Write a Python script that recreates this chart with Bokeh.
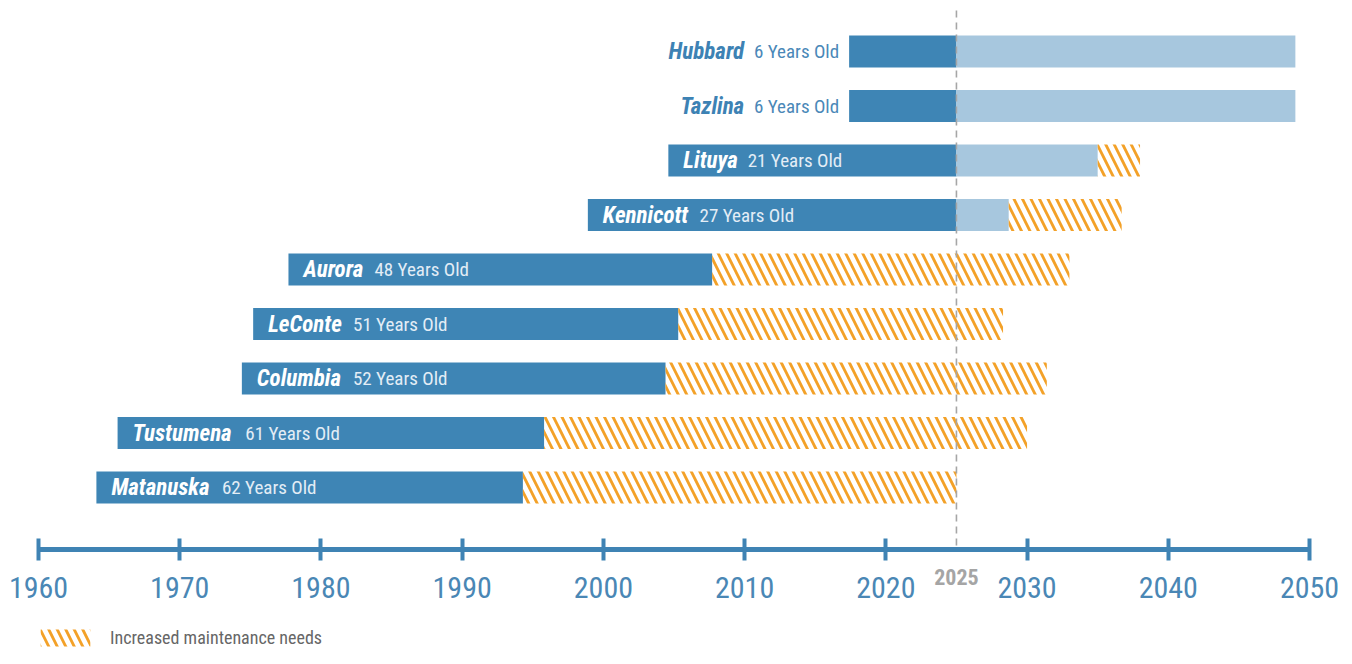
from bokeh.plotting import figure
from bokeh.models import Range1d, LinearAxis, FixedTicker, Legend, LegendItem
from bokeh.core.properties import value
from bokeh.embed import file_html
from bokeh.resources import INLINE

# ---------------- data ----------------
ships = ["Matanuska", "Tustumena", "Columbia", "LeConte", "Aurora",
         "Kennicott", "Lituya", "Tazlina", "Hubbard"]
ages = [62, 61, 52, 51, 48, 27, 21, 6, 6]
start_year = [1964.1, 1965.6, 1974.4, 1975.2, 1977.7, 1998.9, 2004.6, 2017.4, 2017.4]
service_end = [1994.3, 1995.8, 2004.4, 2005.3, 2007.7, 2025, 2025, 2025, 2025]
extended_end = [1994.3, 1995.8, 2004.4, 2005.3, 2007.7, 2028.7, 2035.0, 2049.0, 2049.0]
maint_end = [2025.0, 2030.0, 2031.4, 2028.3, 2033.0, 2036.7, 2038.0, 2049.0, 2049.0]
current_year = 2025
tick_years = [1960, 1970, 1980, 1990, 2000, 2010, 2020, 2030, 2040, 2050]
legend_label = "Increased maintenance needs"

# ---------------- layout ----------------
W, H = 1350, 656
PPY = 1271 / 90.0            # pixels per year
X0 = 1960 - 38 / PPY
X1 = X0 + W / PPY
ROW = 54.5                   # pixels per row
AXIS_Y = -62 / ROW           # axis line sits just below the bottom bar
Y0 = -(62 + (H - 549)) / ROW
Y1 = 8 + 51 / ROW
FONT = "Roboto Condensed"

DARK = "#3e85b5"
LIGHT = "#a7c7de"
ORANGE = "#f3a128"
BLUE_TXT = "#3d82b4"

BOLD_W = dict(A=671, C=652, H=712, K=640, L=539, M=870, T=618, a=543, b=561, c=523,
              d=563, e=529, h=551, i=250, k=507, l=250, m=876, n=551, o=570, r=347,
              s=516, t=335, u=551, y=484, z=484)
REG_W = {" ": 248, "Y": 607, "e": 530, "a": 544, "r": 338, "s": 516, "O": 687,
         "l": 243, "d": 563}

def text_w(s, size, table):
    return sum(table.get(ch, 562) for ch in s) / 1000.0 * 0.89 * size

NAME_SIZE = 23
AGE_SIZE = 19
rows = list(range(len(ships)))
age_txt = [f"{a} Years Old" for a in ages]

inside = [i for i in rows if service_end[i] - start_year[i] > 15]
outside = [i for i in rows if i not in inside]

pad, gap = 15, 9
in_name_x = [start_year[i] + pad / PPY for i in inside]
in_age_x = [start_year[i] + (pad + text_w(ships[i], NAME_SIZE, BOLD_W) + gap) / PPY for i in inside]
out_age_x = [start_year[i] - 10 / PPY for i in outside]
out_name_x = [start_year[i] - (10 + text_w(age_txt[i], AGE_SIZE, REG_W) + gap) / PPY for i in outside]

p = figure(width=W, height=H, output_backend="svg", toolbar_location=None,
           x_range=Range1d(X0, X1), y_range=Range1d(Y0, Y1),
           x_axis_location=None, y_axis_location=None, min_border=0)
p.outline_line_color = None
p.grid.visible = False
p.background_fill_color = "white"

BAR_H = 0.59
p.hbar(y=rows, left=start_year, right=service_end, height=BAR_H,
       fill_color=DARK, line_color=None)
light_rows = [i for i in rows if extended_end[i] > service_end[i]]
p.hbar(y=light_rows, left=[service_end[i] for i in light_rows],
       right=[extended_end[i] for i in light_rows], height=BAR_H,
       fill_color=LIGHT, line_color=None)
hatch_rows = [i for i in rows if maint_end[i] > extended_end[i]]
hatch = p.hbar(y=hatch_rows, left=[extended_end[i] for i in hatch_rows],
               right=[maint_end[i] for i in hatch_rows], height=BAR_H,
               fill_color="white", fill_alpha=0, line_color=None,
               hatch_pattern="\\", hatch_color=ORANGE, hatch_scale=17, hatch_weight=2.8)

p.text(x=in_name_x, y=inside, text=[ships[i] for i in inside], text_color="white",
       text_font=value(FONT), text_font_style="bold italic",
       text_font_size=f"{NAME_SIZE}px", text_baseline="middle")
p.text(x=in_age_x, y=inside, text=[age_txt[i] for i in inside], text_color="#e3edf6",
       text_font=value(FONT), text_font_size=f"{AGE_SIZE}px", text_baseline="middle")
p.text(x=out_name_x, y=outside, text=[ships[i] for i in outside], text_color=BLUE_TXT,
       text_font=value(FONT), text_font_style="bold italic",
       text_font_size=f"{NAME_SIZE}px", text_baseline="middle", text_align="right")
p.text(x=out_age_x, y=outside, text=[age_txt[i] for i in outside], text_color="#4a88b8",
       text_font=value(FONT), text_font_size=f"{AGE_SIZE}px", text_baseline="middle",
       text_align="right")

# current-year marker
p.segment(x0=[current_year], x1=[current_year], y0=[8 + 41 / ROW], y1=[AXIS_Y],
          line_color="#a6a6a6", line_width=1.6, line_dash="7 5")
p.text(x=[current_year], y=[-(576 - 487) / ROW], text=[str(current_year)],
       text_align="center", text_baseline="middle", text_color="#a5a5a5",
       text_font=value(FONT), text_font_style="bold", text_font_size="22px")

# axis
ax = LinearAxis(ticker=FixedTicker(ticks=tick_years), bounds=(1960, 2050),
                fixed_location=AXIS_Y)
ax.axis_line_color = "#3f83b4"
ax.axis_line_width = 5
ax.major_tick_line_color = "#3f83b4"
ax.major_tick_line_width = 4
ax.major_tick_in = 11
ax.major_tick_out = 11
ax.minor_tick_line_color = None
ax.major_label_text_font = FONT
ax.major_label_text_font_size = "30px"
ax.major_label_text_color = "#4a87b5"
ax.major_label_standoff = 16
p.add_layout(ax, "below")

legend = Legend(items=[LegendItem(label=legend_label, renderers=[hatch])],
                location=(34, H - 648), orientation="horizontal")
legend.glyph_width = 62
legend.glyph_height = 21
legend.label_height = 21
legend.label_standoff = 14
legend.label_text_font = FONT
legend.label_text_font_size = "18px"
legend.label_text_color = "#666666"
legend.border_line_color = None
legend.background_fill_alpha = 0
legend.padding = 0
legend.margin = 0
p.add_layout(legend, "center")

open("out.html", "w").write(file_html(p, INLINE))
